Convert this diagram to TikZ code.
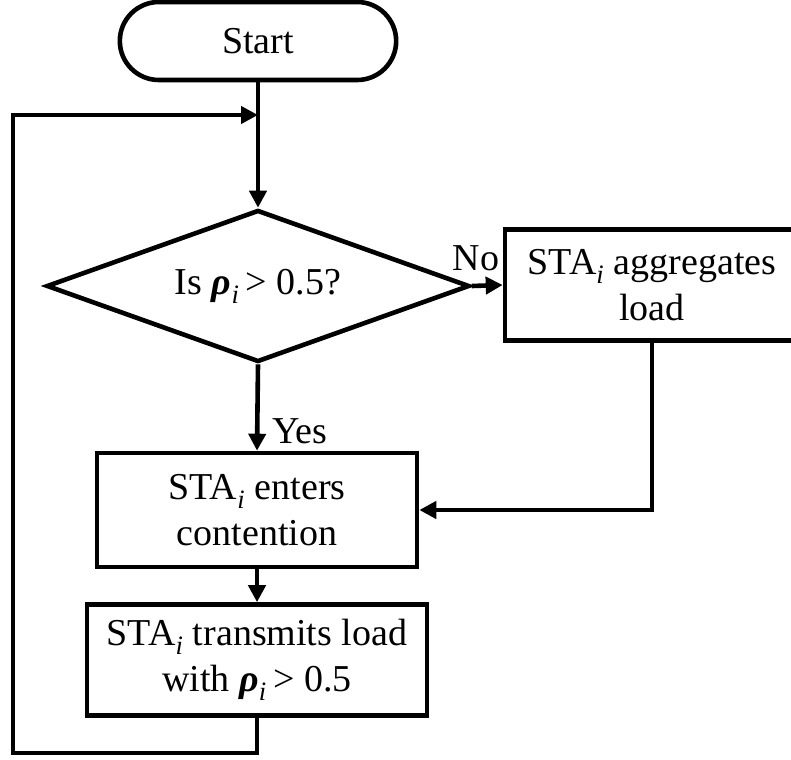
\documentclass[tikz,border=0pt]{standalone}
\usepackage{fontspec}
\setmainfont{Liberation Serif}
\usepackage{tikz}
\usetikzlibrary{arrows.meta, positioning, shapes.geometric, shapes.misc}

\newcommand{\rhoi}{{\bfseries\itshape ρ}\textsubscript{\itshape i}}
\newcommand{\stai}{STA\textsubscript{\itshape i}}

\begin{document}
\begin{tikzpicture}[x=1pt, y=-1pt, line width=4.6pt,
    every node/.style={font=\fontsize{38}{46}\selectfont},
    box/.style={draw, rectangle, align=center, inner sep=0pt},
    arr/.style={-{Triangle[length=17pt, width=17pt]}}]
    \useasboundingbox (0,0) rectangle (791,759);

    % Flow nodes
    \node[draw, rounded rectangle, minimum width=283pt, minimum height=78pt] (start) at (258,41) {Start};
    \node[draw, diamond, aspect=2.78, inner sep=0pt, minimum width=423pt, minimum height=152pt] (check) at (258,286) {Is \rhoi\,> 0.5?};
    \node[box, minimum width=294pt, minimum height=111pt] (aggr) at (652,285) {\stai{} aggregates\\load};
    \node[box, minimum width=320pt, minimum height=114pt] (cont) at (257,510) {\stai{} enters\\contention};
    \node[box, minimum width=340pt, minimum height=111pt] (trans) at (257,660) {\stai{} transmits load\\with \rhoi\,> 0.5};

    % Branch labels
    \node (no) at (476,258) {No};
    \node (yes) at (300,431) {Yes};

    \coordinate (merge) at (258,115);
    \coordinate (corner) at (13,753);

    % Connectors
    \draw (start.south) -- (merge);
    \draw[arr] (merge) -- (check.north);
    \draw[arr] (check.east) -- (aggr.west);
    \draw[arr] (check.south) -- (cont.north);
    \draw[arr] (aggr.south) |- (cont.east);
    \draw[arr] (cont.south) -- (trans.north);
    \draw[arr] (trans.south) |- (corner) |- (merge);
\end{tikzpicture}
\end{document}
